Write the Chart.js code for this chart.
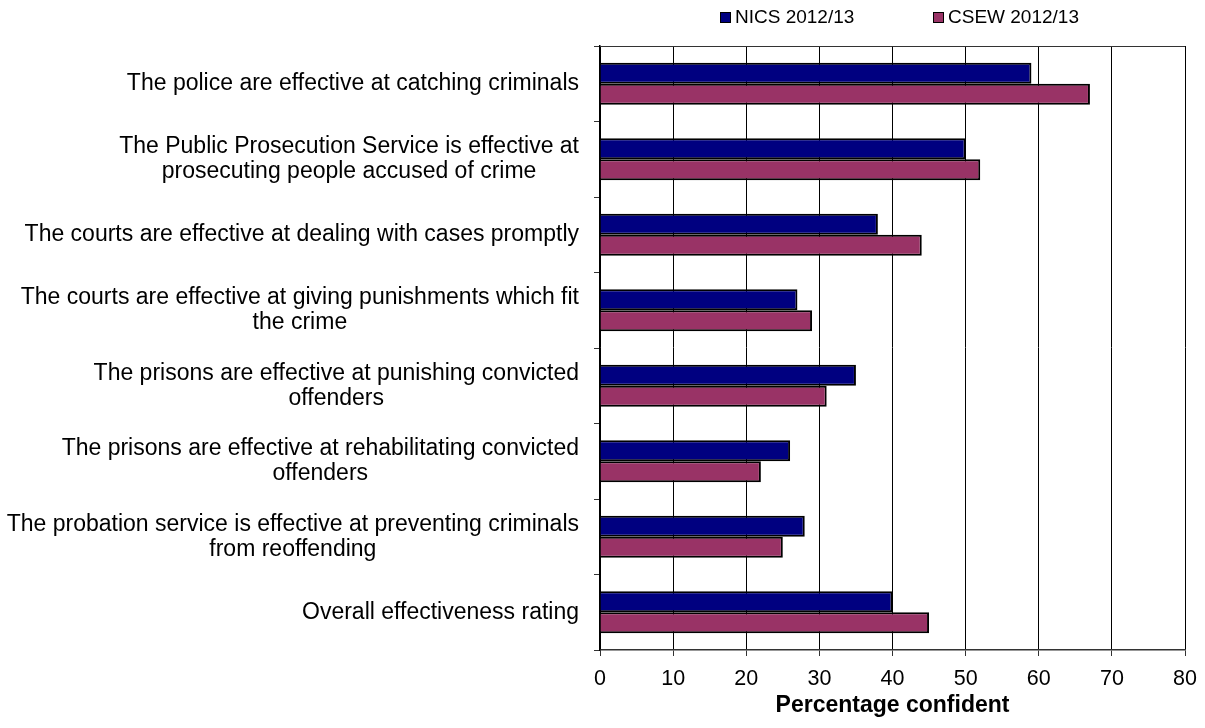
<!DOCTYPE html>
<html>
<head>
<meta charset="utf-8">
<script src="https://cdn.jsdelivr.net/npm/chart.js@4/dist/chart.umd.min.js"></script>
<style>
  html, body { margin: 0; padding: 0; background: #fff; }
  #wrap { width: 1205px; height: 728px; }
</style>
</head>
<body>
<div id="wrap"><canvas id="confidence_chart"></canvas></div>
<script>
const statements = [
    ['The police are effective at catching criminals'],
    ['The Public Prosecution Service is effective at', 'prosecuting people accused of crime'],
    ['The courts are effective at dealing with cases promptly'],
    ['The courts are effective at giving punishments which fit', 'the crime'],
    ['The prisons are effective at punishing convicted', 'offenders'],
    ['The prisons are effective at rehabilitating convicted', 'offenders'],
    ['The probation service is effective at preventing criminals', 'from reoffending'],
    ['Overall effectiveness rating']
];
const nicsValues = [59, 50, 38, 27, 35, 26, 28, 40];
const csewValues = [67, 52, 44, 29, 31, 22, 25, 45];
const seriesNames = ['NICS 2012/13', 'CSEW 2012/13'];
const xTicks = [0, 10, 20, 30, 40, 50, 60, 70, 80];

const FONT = "'Liberation Sans', Arial, sans-serif";

// statement labels: block right-aligned against the axis, lines centred inside the block
const statementLabels = {
    id: 'statementLabels',
    afterDraw(chart) {
        const ctx = chart.ctx;
        const yScale = chart.scales.y;
        const right = chart.chartArea.left - 21;
        const lineH = 25;
        ctx.save();
        ctx.font = '23px ' + FONT;
        ctx.fillStyle = '#000';
        ctx.textAlign = 'center';
        ctx.textBaseline = 'middle';
        statements.forEach((lines, i) => {
            const w = Math.max(...lines.map(l => ctx.measureText(l).width));
            const cx = right - w / 2;
            const cy = yScale.getPixelForValue(i);
            lines.forEach((l, j) => {
                ctx.fillText(l, cx, cy + (j - (lines.length - 1) / 2) * lineH);
            });
        });
        ctx.restore();
    }
};

// top border of the plot and the legend above it
const frameAndLegend = {
    id: 'frameAndLegend',
    afterDraw(chart) {
        const ctx = chart.ctx;
        const area = chart.chartArea;
        ctx.save();
        ctx.strokeStyle = '#333';
        ctx.lineWidth = 1;
        ctx.beginPath();
        ctx.moveTo(area.left, area.top + 0.5);
        ctx.lineTo(area.right, area.top + 0.5);
        ctx.stroke();

        const itemX = [720, 933];
        ctx.font = '19px ' + FONT;
        ctx.textBaseline = 'middle';
        ctx.textAlign = 'left';
        chart.data.datasets.forEach((ds, i) => {
            ctx.fillStyle = ds.backgroundColor;
            ctx.fillRect(itemX[i], 12, 11, 11);
            ctx.strokeStyle = '#000';
            ctx.strokeRect(itemX[i] + 0.5, 12.5, 10, 10);
            ctx.fillStyle = '#000';
            ctx.fillText(ds.label, itemX[i] + 15, 18);
        });
        ctx.restore();
    }
};

const config = {
    type: 'bar',
    data: {
        labels: statements.map(s => s.join(' ')),
        datasets: [{
            label: seriesNames[0],
            data: nicsValues,
            backgroundColor: '#000080',
            borderColor: '#000',
            borderWidth: 2,
            barPercentage: 1,
            categoryPercentage: 0.556
        }, {
            label: seriesNames[1],
            data: csewValues,
            backgroundColor: '#993366',
            borderColor: '#000',
            borderWidth: 2,
            barPercentage: 1,
            categoryPercentage: 0.556
        }]
    },
    options: {
        indexAxis: 'y',
        responsive: true,
        maintainAspectRatio: false,
        animation: false,
        layout: { padding: { top: 46, right: 20, left: 0, bottom: 0 } },
        plugins: {
            legend: { display: false },
            tooltip: { enabled: false }
        },
        scales: {
            x: {
                min: 0,
                max: 80,
                afterBuildTicks: scale => { scale.ticks = xTicks.map(v => ({ value: v })); },
                afterFit: scale => {
                    scale.height = 78;
                    scale.paddingLeft = 0;
                    scale.paddingRight = 0;
                },
                grid: {
                    color: '#000',
                    lineWidth: 1,
                    drawTicks: true,
                    tickLength: 6,
                    tickColor: '#333'
                },
                border: { color: '#333', width: 1.5 },
                ticks: {
                    color: '#000',
                    font: { family: FONT, size: 21.5 },
                    padding: 10
                },
                title: {
                    display: true,
                    text: 'Percentage confident',
                    color: '#000',
                    font: { family: FONT, size: 23, weight: 'bold' },
                    padding: { top: 0, bottom: 9 }
                }
            },
            y: {
                afterFit: scale => { scale.width = 600; },
                grid: {
                    offset: true,
                    drawOnChartArea: false,
                    drawTicks: true,
                    tickLength: 6,
                    color: '#333'
                },
                border: { color: '#000', width: 1.5 },
                ticks: { display: false }
            }
        }
    },
    plugins: [statementLabels, frameAndLegend]
};

new Chart(document.getElementById('confidence_chart'), config);
</script>
</body>
</html>
